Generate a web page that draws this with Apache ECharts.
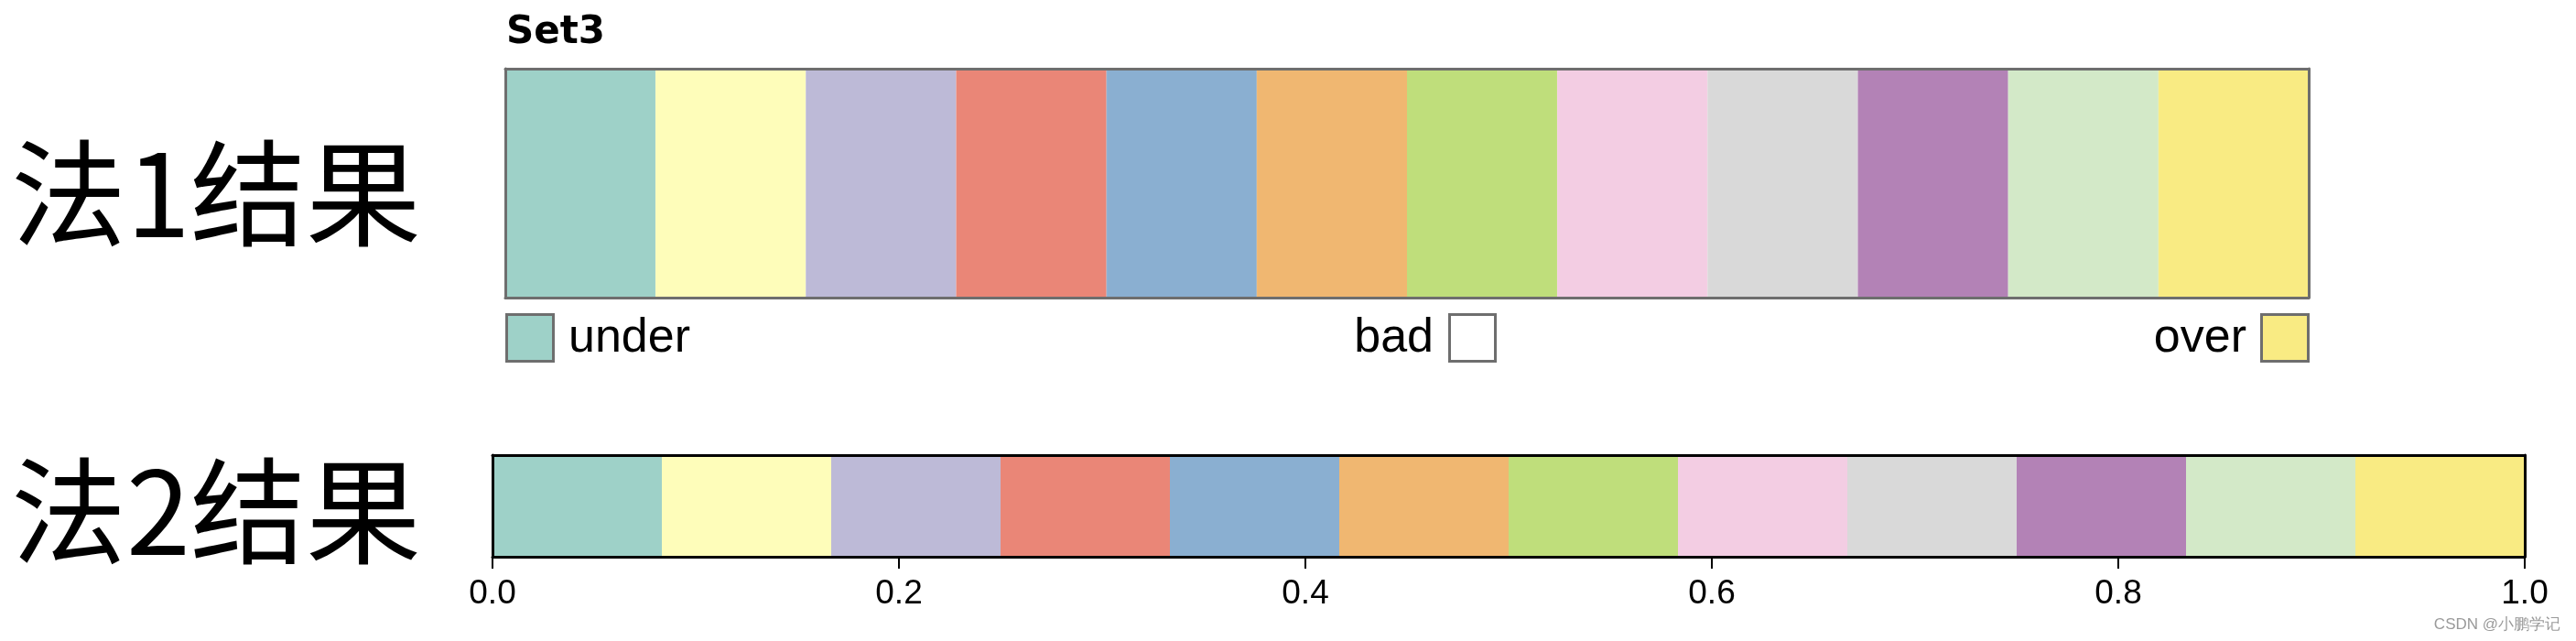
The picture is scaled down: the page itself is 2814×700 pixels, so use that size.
<!DOCTYPE html>
<html>
<head>
<meta charset="utf-8">
<script src="https://cdn.jsdelivr.net/npm/echarts@6/dist/echarts.min.js"></script>
<style>
html,body{margin:0;padding:0;background:#fff;}
#chart{width:2814px;height:700px;}
</style>
</head>
<body>
<div id="chart"></div>
<script>
// ---- data ----
const categories = ['c1','c2','c3','c4','c5','c6','c7','c8','c9','c10','c11','c12'];
const setColors = ['#9ed1c8','#fefdba','#bdbad7','#ea8677','#8aafd1','#f0b771','#bfde7b','#f3cde3','#d9d9d9','#b382b6','#d3e9c8','#f9eb83'];
const binValues = [1,1,1,1,1,1,1,1,1,1,1,1];
const tickLabels = ['0.0','0.2','0.4','0.6','0.8','1.0'];
const extLabels = ['under','bad','over'];
const rowLabels = ['法1结果','法2结果'];
const titleText = 'Set3';
const watermark = 'CSDN @小鹏学记';

const chart = echarts.init(document.getElementById('chart'), null, {renderer:'canvas'});
const grayLine = {lineStyle:{color:'#6e6e6e', width:3}};
const blackLine = {lineStyle:{color:'#000', width:3}};
const barData = binValues.map((v,i)=>({value:v,itemStyle:{color:setColors[i],borderColor:setColors[i],borderWidth:1}}));
function catAxis(grid, pos, line){
  return {type:'category', gridIndex:grid, position:pos, data:categories, boundaryGap:true,
    axisLine:Object.assign({show:!!line, onZero:false}, line||{}), axisTick:{show:false}, axisLabel:{show:false}, splitLine:{show:false}, z:10};
}
function valAxisY(grid, pos, line){
  return {type:'value', gridIndex:grid, position:pos, min:0, max:1,
    axisLine:Object.assign({show:true, onZero:false}, line), axisTick:{show:false}, axisLabel:{show:false}, splitLine:{show:false}, z:10};
}
const FONT = '"Liberation Sans", Arial, Helvetica, sans-serif';
const option = {
  backgroundColor:'#fff',
  animation:false,
  grid:[
    {left:552, top:75, width:1970, height:250},
    {left:538, top:497, width:2220, height:111}
  ],
  xAxis:[
    catAxis(0,'bottom',grayLine),
    catAxis(0,'top',grayLine),
    catAxis(1,'bottom',null),
    {type:'value', gridIndex:1, position:'bottom', min:0, max:1, interval:0.2,
      axisLine:{show:true,onZero:false,lineStyle:{color:'#000',width:3}},
      axisTick:{show:true,length:13,lineStyle:{color:'#000',width:2}},
      axisLabel:{show:true,margin:22,color:'#000',fontSize:37,fontFamily:FONT,
        formatter:(v,i)=>tickLabels[i]},
      splitLine:{show:false}, z:10},
    catAxis(1,'top',blackLine)
  ],
  yAxis:[
    valAxisY(0,'left',grayLine),
    valAxisY(0,'right',grayLine),
    valAxisY(1,'left',blackLine),
    valAxisY(1,'right',blackLine)
  ],
  series:[
    {type:'bar', xAxisIndex:0, yAxisIndex:0, data:barData, barCategoryGap:'0%', barWidth:'100%', silent:true},
    {type:'bar', xAxisIndex:2, yAxisIndex:2, data:barData, barCategoryGap:'0%', barWidth:'100%', silent:true}
  ],
  graphic:[
    {type:'text', x:553, y:36, style:{text:titleText, font:'bold 42px "DejaVu Sans", sans-serif', fill:'#000', verticalAlign:'middle'}},
    {type:'text', x:12, y:211, style:{text:rowLabels[0], font:'126px "Noto Sans CJK SC", sans-serif', fill:'#000', verticalAlign:'middle'}},
    {type:'text', x:12, y:558, style:{text:rowLabels[1], font:'126px "Noto Sans CJK SC", sans-serif', fill:'#000', verticalAlign:'middle'}},
    // under
    {type:'rect', shape:{x:553.5, y:343.5, width:51, height:51}, style:{fill:setColors[0], stroke:'#6e6e6e', lineWidth:3}},
    {type:'text', x:621, y:370, style:{text:extLabels[0], font:'52px '+FONT, fill:'#000', verticalAlign:'middle'}},
    // bad
    {type:'text', x:1566, y:370, style:{text:extLabels[1], font:'52px '+FONT, fill:'#000', align:'right', verticalAlign:'middle'}},
    {type:'rect', shape:{x:1583.5, y:343.5, width:50, height:51}, style:{fill:'#fff', stroke:'#6e6e6e', lineWidth:3}},
    // over
    {type:'text', x:2454, y:370, style:{text:extLabels[2], font:'52px '+FONT, fill:'#000', align:'right', verticalAlign:'middle'}},
    {type:'rect', shape:{x:2470.5, y:343.5, width:51, height:51}, style:{fill:setColors[11], stroke:'#6e6e6e', lineWidth:3}},
    {type:'text', x:2797, y:682, style:{text:watermark, font:'17px '+FONT, fill:'#9a9a9a', align:'right', verticalAlign:'middle'}}
  ]
};
chart.setOption(option);
</script>
</body>
</html>
